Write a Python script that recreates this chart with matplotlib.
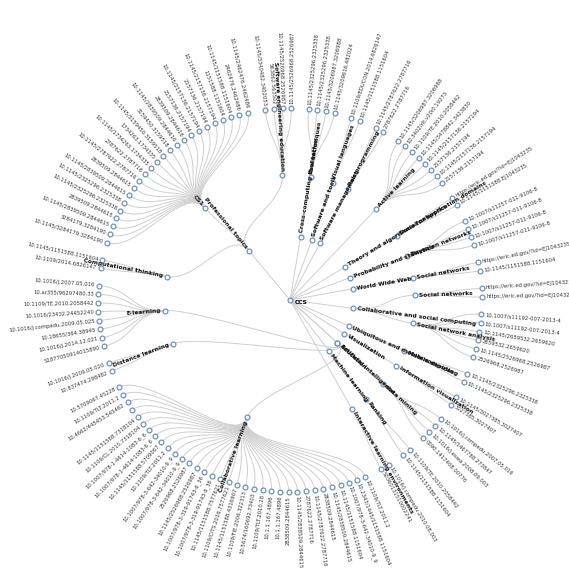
import numpy as np
import matplotlib
matplotlib.use('Agg')
import matplotlib.pyplot as plt

# arbre : (parent, enfant) ; les feuilles sont listées par groupe
internal_edges = [
    ("CCS", "Education"), ("Education", "Collaborative learning"),
    ("CCS", "Interactive learning environments"),
    ("CCS", "Machine learning"), ("Machine learning", "Ranking"),
    ("CCS", "Artificial intelligence"), ("Artificial intelligence", "data mining"),
    ("CCS", "Visualization"), ("Visualization", "Information visualization"),
    ("CCS", "Ubiquitous and mobile computing"), ("Ubiquitous and mobile computing", "Mobile devices"),
    ("CCS", "Collaborative and social computing"),
    ("Collaborative and social computing", "Social network analysis"),
    ("Collaborative and social computing", "Social networks "),
    ("CCS", "World Wide Web"), ("World Wide Web", "Social networks  "),
    ("CCS", "Probability and statistics"), ("Probability and statistics", "Bayesian networks"),
    ("CCS", "Theory and algorithms for application domains"),
    ("Theory and algorithms for application domains", "Social networks"),
    ("CCS", "Active learning"),
    ("CCS", "Software management"), ("Software management", "Pair programming"),
    ("CCS", "Software and tools"), ("Software and tools", "Visual languages"),
    ("CCS", "Cross-computing tool techniques"), ("Cross-computing tool techniques", "Evaluation"),
    ("CCS", "Professional topics"), ("Professional topics", "Software engineering education"),
    ("Professional topics", "CS1"), ("Professional topics", "Computational thinking"),
    ("Education", "E-learning"), ("Education", "Distance learning"),
]

# groupes de feuilles dans l'ordre anti-horaire, en partant de la gauche (Collaborative learning)
leaf_groups = [
    ("Collaborative learning", [
        "10.5709067.45228", "10.1109/TLT.2011.2", "10.4662/445453.545462", "",
        "10.1145/1151588.7318104", "10.1109/CL.2015.7318104", "10.1007/978-1-4614-1083-6_6",
        "10.1007/978-1-4614-1083-6_6", "10.1145/1151588.5709067", "10.1109/TLT.2011.2",
        "10.1007/978-3-642-34010-9_9", "10.1007/978-3-642-34010-9_9", "2526968.2526987",
        "10.1145/2526968.2526987", "10.1007/978-3-319-91743-6_36", "10.1007/978-3-319-91743-6_36",
        "10.1145/1151588.7577621", "10.1109/CITS.2016.7577621", "10.1145/1151588.4316907",
        "10.1109/FIE.2006.322313", "10.5674/160692.73403", "10.1109/TLT.2010.28",
        "10.1.1.167.4896", "10.1.1.167.4896", "2838509.2844615", "10.1145/2838509.2844615",
        "2787622.2787716", "10.1145/2787622.2787716", "2838509.2844615", "10.1145/2838509.2844615",
        "10.1145/1151588.1151604", "10.1007/978-3-642-34010-9_9", "10.2343/1445/1151588.1151604",
        "10.1109/TLT.2011.2"]),
    ("Interactive learning environments", ["S0360131510002241", "10.1016/j.compedu.2010.08.003"]),
    ("Ranking", ["10.1145/1151588.1151604", "10.1109/TE.2010.2058442"]),
    ("data mining", ["0090.1417408.00776", "10.1016/j.eswa.2008.09.003",
                     "10.1145/1467788.273847", "10.1016/j.compedu.2007.05.016"]),
    ("Information visualization", ["3027385.3027407", "10.1145/3027385.3027407"]),
    ("Mobile devices", ["10.1145/2325296.2325338", "10.1145/2325296.2325338"]),
    ("Social network analysis", ["2526968.2526987", "10.1145/2526968.2526987", "2659532.2659620",
                                 "10.1145/2659532.2659620", "10.1007/s11192-007-2013-4",
                                 "10.1007/s11192-007-2013-4"]),
    ("Social networks ", ["https://eric.ed.gov/?id=EJ1043235", "https://eric.ed.gov/?id=EJ1043235"]),
    ("Social networks  ", ["10.1145/1151588.1151604", "https://eric.ed.gov/?id=EJ1043235"]),
    ("Bayesian networks", ["10.1007/s11257-011-9106-8", "10.1007/s11257-011-9106-8",
                           "10.1007/s11257-011-9106-8", "10.1007/s11257-011-9106-8"]),
    ("Social networks", ["10.1145/1151588.EJ1043235", "https://eric.ed.gov/?id=EJ1043235"]),
    ("Active learning", ["2157136.2157194", "10.1145/2157136.2157194", "2157136.2157194",
                         "10.1145/2157136.2157194", "10.1145/3478842.3423830", "10.1109/TE.2010.2058442",
                         "10.3402/rlt.v20i0.19273", "10.1145/3206987.3206988"]),
    ("Pair programming", ["2787622.2787716", "10.1145/2787622.2787716"]),
    ("Visual languages", ["10.1145/1151588.1151604", "10.1109/EDUCON.2014.6826147"]),
    ("Evaluation", ["10.1145/3209616.482024", "10.1145/3206987.3206988",
                    "10.1145/2325296.2325338", "10.1145/2325296.2325338"]),
    ("Software engineering education", ["10.1145/2526968.2526987", "10.1145/2526968.2526987",
                                        "563862.563502", "10.1145/3340482.3402053"]),
    ("CS1", ["10.1145/2462476.2462486", "2462476.2462486", "10.1145/1151588.1151604",
             "1151588.1151604", "10.1145/2157136.2157194", "2157136.2157194",
             "10.1145/2157136.2157194", "2157136.2157194", "2839509.2844616",
             "10.1145/2839509.2844616", "3159450.3159518", "10.1145/3159450.3159518",
             "1734263.1734335", "10.1145/1734263.1734335", "2787622.2787716",
             "10.1145/2787622.2787716", "2839509.2844615", "10.1145/2839509.2844615",
             "10.1145/2325296.2325338", "10.1145/2325296.2325338", "2839509.2844615",
             "10.1145/2839509.2844615", "3284179.3284190", "10.1145/3284179.3284190"]),
    ("Computational thinking", ["10.1145/1151588.1151604", "10.1109/2014.6826147"]),
    ("E-learning", ["10.1016/j.2007.05.016", "10.ar355/96297480.33", "10.1109/TE.2010.2058442",
                    "10.1016/23432.24452240", "10.1016/j.compedu.2009.05.025",
                    "10.18655/364.38945", "10.1016/j.2014.12.021", "S1877050914015890"]),
    ("Distance learning", ["10.1016/j.2009.05.020", "10.837474.298482"]),
]

R_LEAF, R_MID, R_TOP = 192, 125, 64
START = 207.0

n_slots = sum(len(g[1]) for g in leaf_groups) + len(leaf_groups)
step = 360.0 / n_slots

pos = {}
children = {}
for p, c in internal_edges:
    children.setdefault(p, []).append(c)

leaves = []
slot = 0
for parent, labels in leaf_groups:
    for lab in labels:
        ang = START + slot * step
        leaves.append((parent, lab, ang))
        slot += 1
    slot += 1

leaf_angles = {}
for parent, lab, ang in leaves:
    leaf_angles.setdefault(parent, []).append(ang)


def node_angles(n):
    out = list(leaf_angles.get(n, []))
    for c in children.get(n, []):
        out += node_angles(c)
    return out


def xy(ang, r):
    a = np.deg2rad(ang)
    return r * np.cos(a), r * np.sin(a)


internal = set(children) | set(leaf_angles)
for n in internal:
    if n == "CCS":
        pos[n] = (0.0, 0.0)
        continue
    angs = node_angles(n)
    r = R_MID if n in leaf_angles else R_TOP
    pos[n] = (np.mean(angs), r)


def link(ax, a0, r0, a1, r1):
    rm = (r0 + r1) / 2
    p = np.array([xy(a0, r0), xy(a0, rm), xy(a1, rm), xy(a1, r1)])
    t = np.linspace(0, 1, 40)[:, None]
    b = ((1 - t) ** 3) * p[0] + 3 * ((1 - t) ** 2) * t * p[1] + 3 * (1 - t) * t ** 2 * p[2] + t ** 3 * p[3]
    ax.plot(b[:, 0], b[:, 1], color="#cfcfcf", lw=0.7, zorder=1)


def label(ax, ang, r, text, bold):
    a = ang % 360
    x, y = xy(ang, r + 4)
    if 90 < a < 270:
        rot, ha = a - 180, "right"
    else:
        rot, ha = a, "left"
    ax.text(x, y, text, rotation=rot, ha=ha, va="center", rotation_mode="anchor",
            fontsize=4.3 if bold else 3.8, fontweight="bold" if bold else "normal",
            color="#111111" if bold else "#333333", zorder=3)


fig = plt.figure(figsize=(5.69, 5.73), dpi=100)
ax = fig.add_axes([0, 0, 1, 1])
ax.set_xlim(-290, 279)
ax.set_ylim(-273, 300)
ax.axis("off")

for p, c in internal_edges:
    a0, r0 = pos[p]
    a1, r1 = pos[c]
    if p == "CCS":
        a0 = a1
    link(ax, a0, r0, a1, r1)
for parent, lab, ang in leaves:
    a0, r0 = pos[parent]
    link(ax, a0, r0, ang, R_LEAF)

for n, (a, r) in pos.items():
    x, y = xy(a, r)
    ax.scatter([x], [y], s=12, facecolor="white", edgecolor="#6f94b8", lw=0.9, zorder=2)
    if n == "CCS":
        ax.text(x + 5, y - 3, "CCS", fontsize=4.3, fontweight="bold", va="center", zorder=3)
    else:
        label(ax, a, r, n.strip(), True)

for parent, lab, ang in leaves:
    x, y = xy(ang, R_LEAF)
    ax.scatter([x], [y], s=12, facecolor="white", edgecolor="#6f94b8", lw=0.9, zorder=2)
    label(ax, ang, R_LEAF, lab, False)

fig.savefig("out.png", dpi=100)
